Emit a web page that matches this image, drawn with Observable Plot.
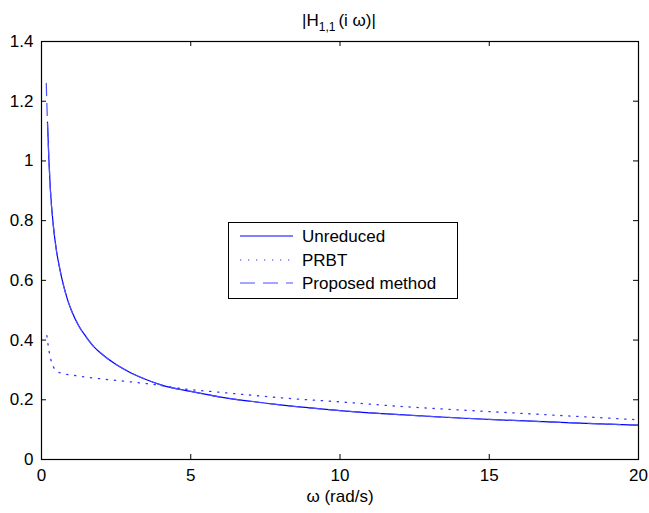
<!DOCTYPE html>
<html><head><meta charset="utf-8">
<script src="https://cdn.jsdelivr.net/npm/d3@7"></script>
<script src="https://cdn.jsdelivr.net/npm/@observablehq/plot@0.6"></script>
<style>body{margin:0;background:#fff}#chart{position:relative;width:649px;height:513px}</style>
</head><body><div id="chart"></div>
<script>
// ---- data ----
const xTicks = [0, 5, 10, 15, 20];
const yTicks = [0, 0.2, 0.4, 0.6, 0.8, 1, 1.2, 1.4];

const omegaUnreduced = [0.2,0.25,0.3,0.4,0.5,0.6,0.7,0.8,0.9,1,1.25,1.5,1.75,2,2.5,3,3.5,4,5,6,7,8,10,12,14,16,18,20];
const unreduced      = [1.13,1.0,0.90,0.78,0.70,0.645,0.598,0.56,0.527,0.50,0.447,0.41,0.378,0.355,0.318,0.29,0.268,0.25,0.228,0.209,0.195,0.183,0.164,0.150,0.139,0.130,0.122,0.115];

const omegaProposed = [0.16,0.18,0.2,0.25,0.3,0.4,0.5,0.6,0.7,0.8,0.9,1,1.25,1.5,1.75,2,2.5,3,3.5,4,5,6,7,8,10,12,14,16,18,20];
const proposed      = [1.26,1.19,1.13,1.0,0.90,0.78,0.70,0.645,0.598,0.56,0.527,0.50,0.447,0.41,0.378,0.355,0.318,0.29,0.268,0.25,0.228,0.209,0.195,0.183,0.164,0.150,0.139,0.130,0.122,0.115];

const omegaPRBT = [0.18,0.22,0.26,0.3,0.4,0.5,0.7,1,2,3,4,4.66,6,8.5,10,12,14,16,18,20];
const prbt      = [0.415,0.385,0.36,0.34,0.31,0.297,0.288,0.283,0.27,0.26,0.248,0.238,0.225,0.203,0.193,0.178,0.166,0.155,0.144,0.133];

const seriesNames = ["Unreduced", "PRBT", "Proposed method"];
const titleMain = "|H", titleSub = "1,1", titleRest = "(i ω)|";
const xLabel = "ω (rad/s)";

// ---- build ----
const W = 649, H = 513, mL = 41, mR = 11, mT = 41, mB = 54;
const innerW = W - mL - mR, innerH = H - mT - mB;
const toRows = (xs, ys) => xs.map((x, i) => ({x, y: ys[i]}));
const font = "'Liberation Sans', Arial, Helvetica, sans-serif";

const plot = Plot.plot({
  width: W, height: H,
  marginLeft: mL, marginRight: mR, marginTop: mT, marginBottom: mB,
  style: {fontFamily: font, fontSize: "17px", color: "#000", background: "#fff"},
  x: {domain: [0, 20]},
  y: {domain: [0, 1.4]},
  marks: [
    Plot.axisX(xTicks, {anchor: "bottom", tickSize: 0, tickPadding: 9, label: null, tickFormat: d => String(d)}),
    Plot.axisY(yTicks, {anchor: "left", tickSize: 0, tickPadding: 8, label: null, tickFormat: d => String(d)}),
    Plot.tickX(xTicks, {x: d => d, insetTop: innerH - 5, stroke: "#000"}),
    Plot.tickX(xTicks, {x: d => d, insetBottom: innerH - 5, stroke: "#000"}),
    Plot.tickY(yTicks, {y: d => d, insetRight: innerW - 5, stroke: "#000"}),
    Plot.tickY(yTicks, {y: d => d, insetLeft: innerW - 5, stroke: "#000"}),
    Plot.line(toRows(omegaPRBT, prbt), {x: "x", y: "y", stroke: "#3333ff", strokeWidth: 1.3, strokeDasharray: "1.3,6.7", curve: "monotone-x"}),
    Plot.line(toRows(omegaUnreduced, unreduced), {x: "x", y: "y", stroke: "#0000ff", strokeWidth: 1.2, curve: "monotone-x"}),
    Plot.line(toRows(omegaProposed, proposed), {x: "x", y: "y", stroke: "#4d4dff", strokeWidth: 1.2, strokeDasharray: "12,8", curve: "monotone-x"}),
    Plot.text([xLabel], {text: d => d, frameAnchor: "bottom", dy: 42, fontSize: 17}),
    Plot.frame({stroke: "#000", strokeWidth: 1.2})
  ]
});
document.getElementById("chart").appendChild(plot);

// title with subscript
const svg = d3.select(plot);
const t = svg.append("text").attr("x", 339).attr("y", 26).attr("text-anchor", "middle")
  .attr("font-family", font).attr("font-size", 17).attr("fill", "#000");
t.append("tspan").text(titleMain);
t.append("tspan").attr("font-size", 12).attr("dy", 5).text(titleSub);
t.append("tspan").attr("dy", -5).attr("dx", 3).text(titleRest);

// legend box
const lg = svg.append("g");
lg.append("rect").attr("x", 228.5).attr("y", 222.5).attr("width", 229).attr("height", 76)
  .attr("fill", "#fff").attr("stroke", "#000").attr("stroke-width", 1);
const styles = [
  {stroke: "#0000ff", dash: null},
  {stroke: "#3333ff", dash: "1.3,6.7"},
  {stroke: "#4d4dff", dash: "15,8"}
];
const rowsY = [236, 260, 283];
seriesNames.forEach((name, i) => {
  lg.append("line").attr("x1", 240).attr("x2", 293).attr("y1", rowsY[i]).attr("y2", rowsY[i])
    .attr("stroke", styles[i].stroke).attr("stroke-width", 1.2)
    .attr("stroke-dasharray", styles[i].dash);
  lg.append("text").attr("x", 302).attr("y", rowsY[i]).attr("dy", "0.35em")
    .attr("text-anchor", "start")
    .attr("font-family", font).attr("font-size", 17).attr("fill", "#000").text(name);
});
</script>
</body></html>
